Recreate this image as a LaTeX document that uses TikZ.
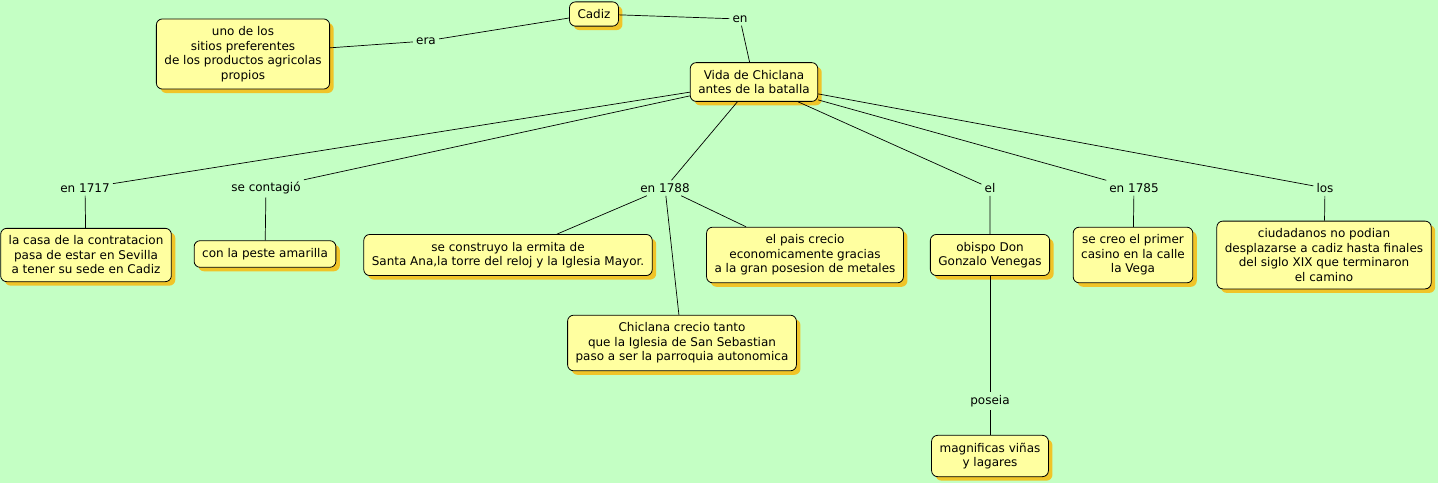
\documentclass[tikz,border=0pt]{standalone}
\usepackage{fontspec}
\setmainfont{DejaVu Sans}
\usepackage{xcolor}
\usetikzlibrary{shadows}

\definecolor{fondo}{RGB}{196,255,196}
\definecolor{caja}{RGB}{255,255,160}
\definecolor{sombra}{RGB}{240,196,40}

\tikzset{
  concepto/.style={draw=black, line width=0.8pt, rounded corners=6pt, fill=caja,
    align=center, inner xsep=8pt, inner ysep=7.5pt,
    drop shadow={shadow xshift=4pt, shadow yshift=-4pt, fill=sombra, opacity=1}},
  enlace/.style={align=center, inner sep=3pt},
  linea/.style={draw=black, line width=0.7pt}
}

\begin{document}
\begin{tikzpicture}[x=1pt,y=-1pt,font=\fontsize{12}{14.5}\selectfont]

\fill[fondo] (0,0) rectangle (1438,483);
\useasboundingbox (0,0) rectangle (1438,483);

% conceptos
\node[concepto] (cadiz) at (594,14) {Cadiz};
\node[concepto] (uno) at (243,54) {uno de los\\sitios preferentes\\de los productos agricolas\\propios};
\node[concepto] (vida) at (754,82) {Vida de Chiclana\\antes de la batalla};
\node[concepto] (casa) at (86,255) {la casa de la contratacion\\pasa de estar en Sevilla\\a tener su sede en Cadiz};
\node[concepto] (peste) at (265,254) {con la peste amarilla};
\node[concepto] (ermita) at (508,255) {se construyo la ermita de\\Santa Ana,la torre del reloj y la Iglesia Mayor.};
\node[concepto] (pais) at (805,255) {el pais crecio\\economicamente gracias\\a la gran posesion de metales};
\node[concepto] (chiclana) at (682,343) {Chiclana crecio tanto\\que la Iglesia de San Sebastian\\paso a ser la parroquia autonomica};
\node[concepto] (obispo) at (990,255) {obispo Don\\Gonzalo Venegas};
\node[concepto] (casino) at (1133,255) {se creo el primer\\casino en la calle\\la Vega};
\node[concepto] (ciudad) at (1324,255) {ciudadanos no podian\\desplazarse a cadiz hasta finales\\del siglo XIX que terminaron\\el camino};
\node[concepto] (vinas) at (990,456) {magnificas viñas\\y lagares};

% palabras de enlace
\node[enlace] (era) at (426,41) {era};
\node[enlace] (en) at (740,19) {en};
\node[enlace] (e1717) at (85,188) {en 1717};
\node[enlace] (contagio) at (266,188) {se contagió};
\node[enlace] (e1788) at (665,188) {en 1788};
\node[enlace] (el) at (990,188) {el};
\node[enlace] (e1785) at (1134,188) {en 1785};
\node[enlace] (los) at (1325,188) {los};
\node[enlace] (poseia) at (990,401) {poseia};

% lineas
\draw[linea] (cadiz) -- (era) -- (uno);
\draw[linea] (cadiz) -- (en) -- (vida);
\draw[linea] (vida) -- (e1717) -- (casa);
\draw[linea] (vida) -- (contagio) -- (peste);
\draw[linea] (vida) -- (e1788);
\draw[linea] (e1788) -- (ermita);
\draw[linea] (e1788) -- (pais);
\draw[linea] (e1788) -- (chiclana);
\draw[linea] (vida) -- (el) -- (obispo);
\draw[linea] (vida) -- (e1785) -- (casino);
\draw[linea] (vida) -- (los) -- (ciudad);
\draw[linea] (obispo) -- (poseia) -- (vinas);

\end{tikzpicture}
\end{document}
